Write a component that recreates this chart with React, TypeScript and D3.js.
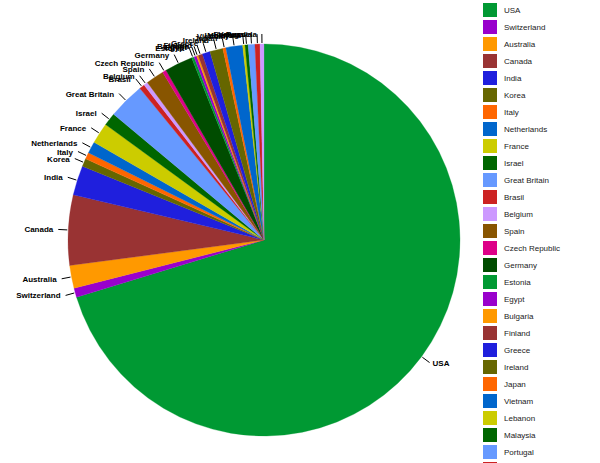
import React from "react";
import * as d3 from "d3";

const countries = [
  "USA", "Switzerland", "Australia", "Canada", "India", "Korea", "Italy", "Netherlands",
  "France", "Israel", "Great Britain", "Brasil", "Belgium", "Spain", "Czech Republic",
  "Germany", "Estonia", "Egypt", "Bulgaria", "Finland", "Greece", "Ireland", "Japan",
  "Vietnam", "Lebanon", "Malaysia", "Portugal", "Russia", "Venezuela",
];

const shares = [
  70.3, 0.76, 1.88, 5.78, 2.44, 0.65, 0.54, 0.97,
  1.72, 1.06, 3.0, 0.44, 0.33, 1.5, 0.31,
  2.32, 0.21, 0.22, 0.14, 0.36, 0.64, 1.08, 0.25,
  1.38, 0.19, 0.26, 0.55, 0.41, 0.33,
];

const palette = [
  "#009933", "#9900cc", "#ff9900", "#993333", "#1f1fdd", "#666600", "#ff6600", "#0066cc",
  "#cccc00", "#006600", "#6699ff", "#cc2222", "#cc99ff", "#885500", "#dd0088", "#004c00",
];

const WIDTH = 600;
const HEIGHT = 463;
const CX = 264;
const CY = 240;
const R = 196;

type Slice = { name: string; value: number; idx: number };

export default function App() {
  const rows: Slice[] = countries.map((name, idx) => ({ name, value: shares[idx], idx }));

  const pie = d3.pie<Slice>().value((d) => d.value).sort(null);
  const arcs = pie(rows);

  const arcGen = d3.arc<d3.PieArcDatum<Slice>>().innerRadius(0).outerRadius(R);
  const innerTick = d3.arc<d3.PieArcDatum<Slice>>().innerRadius(R + 1).outerRadius(R + 1);
  const outerTick = d3.arc<d3.PieArcDatum<Slice>>().innerRadius(R + 10).outerRadius(R + 10);

  const color = d3.scaleOrdinal<number, string>()
    .domain(d3.range(palette.length))
    .range(palette);
  const colorOf = (i: number) => color(i % palette.length);

  const legendY = d3.scaleLinear().domain([0, 1]).range([3, 20]);

  return (
    <svg
      width={WIDTH}
      height={HEIGHT}
      style={{ position: "absolute", left: 0, top: 0, background: "#fff" }}
    >
      <g transform={`translate(${CX},${CY})`}>
        {arcs.map((a) => (
          <path
            key={a.data.name}
            d={arcGen(a) || ""}
            fill={colorOf(a.data.idx)}
            stroke={colorOf(a.data.idx)}
            strokeWidth={0.3}
          />
        ))}
        {arcs.map((a) => {
          const [x1, y1] = innerTick.centroid(a);
          const [x2, y2] = outerTick.centroid(a);
          const mid = (a.startAngle + a.endAngle) / 2;
          const left = mid > Math.PI;
          return (
            <g key={"lab-" + a.data.name}>
              <line x1={x1} y1={y1} x2={x2} y2={y2} stroke="#000" strokeWidth={1} />
              <text
                x={left ? x2 - 5 : x2 + 3}
                y={y2 + 3}
                textAnchor={left ? "end" : "start"}
                fontFamily="'Liberation Sans', Arial, sans-serif"
                fontWeight="bold"
                fontSize={8}
                fill="#000"
              >
                {a.data.name}
              </text>
            </g>
          );
        })}
      </g>

      {/* legend */}
      <g>
        {rows.map((d) => (
          <g key={"lg-" + d.name} transform={`translate(483,${legendY(d.idx)})`}>
            <rect width={14} height={14} fill={colorOf(d.idx)} />
            <text
              x={21}
              y={10}
              fontFamily="'Liberation Sans', Arial, sans-serif"
              fontSize={8}
              fill="#222"
            >
              {d.name}
            </text>
          </g>
        ))}
      </g>
    </svg>
  );
}
